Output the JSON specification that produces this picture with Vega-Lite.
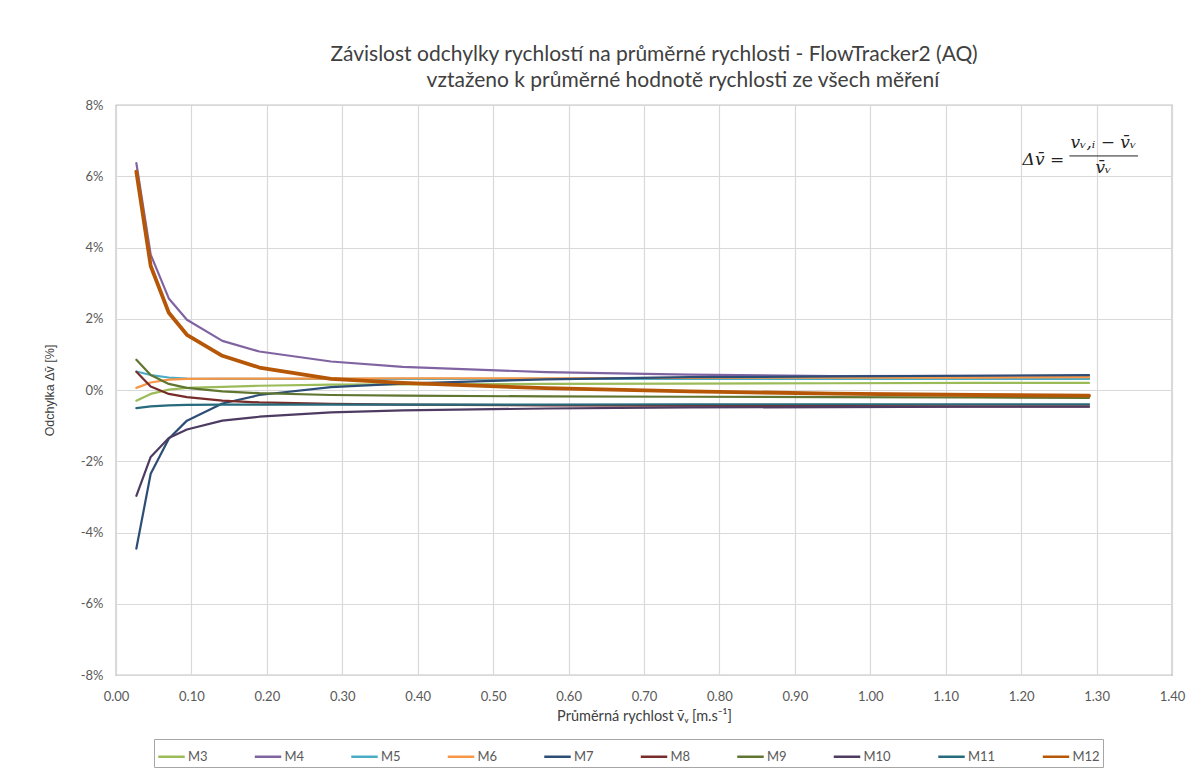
{
  "$schema": "https://vega.github.io/schema/vega-lite/v6.json",
  "width": 1056,
  "height": 570,
  "autosize": {"type": "none"},
  "padding": {"left": 116, "top": 105, "right": 14, "bottom": 101},
  "background": "white",
  "config": {
    "view": {"stroke": "#868686", "strokeWidth": 1.2},
    "font": "Lato",
    "title": {"font": "Lato", "fontSize": 21, "fontWeight": "normal", "color": "#404040", "offset": 8, "lineHeight": 26, "dx": 10},
    "axis": {"labelFont": "Lato", "labelFontSize": 13, "labelColor": "#595959", "gridColor": "#D9D9D9", "gridWidth": 1.2, "ticks": false, "domain": false, "titleFontWeight": "normal", "titleColor": "#404040", "labelFlush": false}
  },
  "title": {"text": ["Závislost odchylky rychlostí na průměrné rychlosti - FlowTracker2 (AQ)", "\u200b\u2003\u2003\u2003\u2002vztaženo k průměrné hodnotě rychlosti ze všech měření"], "anchor": "middle", "frame": "group"},
  "datasets": {
    "lines": [
      {"x":0.027,"s":"M3","y":-0.30},{"x":0.046,"s":"M3","y":-0.11},{"x":0.070,"s":"M3","y":0.01},{"x":0.094,"s":"M3","y":0.06},{"x":0.141,"s":"M3","y":0.09},{"x":0.19,"s":"M3","y":0.12},{"x":0.285,"s":"M3","y":0.15},{"x":0.38,"s":"M3","y":0.16},{"x":0.57,"s":"M3","y":0.17},{"x":0.76,"s":"M3","y":0.18},{"x":0.95,"s":"M3","y":0.19},{"x":1.14,"s":"M3","y":0.20},{"x":1.29,"s":"M3","y":0.20},
      {"x":0.027,"s":"M4","y":6.37},{"x":0.046,"s":"M4","y":3.80},{"x":0.070,"s":"M4","y":2.57},{"x":0.094,"s":"M4","y":1.97},{"x":0.141,"s":"M4","y":1.38},{"x":0.19,"s":"M4","y":1.08},{"x":0.285,"s":"M4","y":0.80},{"x":0.38,"s":"M4","y":0.65},{"x":0.57,"s":"M4","y":0.50},{"x":0.76,"s":"M4","y":0.43},{"x":0.95,"s":"M4","y":0.39},{"x":1.14,"s":"M4","y":0.40},{"x":1.29,"s":"M4","y":0.40},
      {"x":0.027,"s":"M5","y":0.52},{"x":0.046,"s":"M5","y":0.42},{"x":0.070,"s":"M5","y":0.35},{"x":0.094,"s":"M5","y":0.32},{"x":0.141,"s":"M5","y":0.31},{"x":0.19,"s":"M5","y":0.31},{"x":0.285,"s":"M5","y":0.31},{"x":0.38,"s":"M5","y":0.31},{"x":0.57,"s":"M5","y":0.31},{"x":0.76,"s":"M5","y":0.31},{"x":0.95,"s":"M5","y":0.31},{"x":1.14,"s":"M5","y":0.31},{"x":1.29,"s":"M5","y":0.31},
      {"x":0.027,"s":"M6","y":0.06},{"x":0.046,"s":"M6","y":0.21},{"x":0.070,"s":"M6","y":0.29},{"x":0.094,"s":"M6","y":0.31},{"x":0.141,"s":"M6","y":0.32},{"x":0.19,"s":"M6","y":0.32},{"x":0.285,"s":"M6","y":0.32},{"x":0.38,"s":"M6","y":0.33},{"x":0.57,"s":"M6","y":0.33},{"x":0.76,"s":"M6","y":0.34},{"x":0.95,"s":"M6","y":0.35},{"x":1.14,"s":"M6","y":0.35},{"x":1.29,"s":"M6","y":0.36},
      {"x":0.027,"s":"M7","y":-4.45},{"x":0.046,"s":"M7","y":-2.35},{"x":0.070,"s":"M7","y":-1.37},{"x":0.094,"s":"M7","y":-0.86},{"x":0.141,"s":"M7","y":-0.38},{"x":0.19,"s":"M7","y":-0.14},{"x":0.285,"s":"M7","y":0.08},{"x":0.38,"s":"M7","y":0.18},{"x":0.57,"s":"M7","y":0.30},{"x":0.76,"s":"M7","y":0.36},{"x":0.95,"s":"M7","y":0.38},{"x":1.14,"s":"M7","y":0.40},{"x":1.29,"s":"M7","y":0.42},
      {"x":0.027,"s":"M8","y":0.51},{"x":0.046,"s":"M8","y":0.10},{"x":0.070,"s":"M8","y":-0.11},{"x":0.094,"s":"M8","y":-0.20},{"x":0.141,"s":"M8","y":-0.30},{"x":0.19,"s":"M8","y":-0.35},{"x":0.285,"s":"M8","y":-0.39},{"x":0.38,"s":"M8","y":-0.41},{"x":0.57,"s":"M8","y":-0.43},{"x":0.76,"s":"M8","y":-0.44},{"x":0.95,"s":"M8","y":-0.45},{"x":1.14,"s":"M8","y":-0.46},{"x":1.29,"s":"M8","y":-0.46},
      {"x":0.027,"s":"M9","y":0.85},{"x":0.046,"s":"M9","y":0.42},{"x":0.070,"s":"M9","y":0.17},{"x":0.094,"s":"M9","y":0.06},{"x":0.141,"s":"M9","y":-0.04},{"x":0.19,"s":"M9","y":-0.09},{"x":0.285,"s":"M9","y":-0.14},{"x":0.38,"s":"M9","y":-0.16},{"x":0.57,"s":"M9","y":-0.18},{"x":0.76,"s":"M9","y":-0.19},{"x":0.95,"s":"M9","y":-0.20},{"x":1.14,"s":"M9","y":-0.21},{"x":1.29,"s":"M9","y":-0.22},
      {"x":0.027,"s":"M10","y":-2.97},{"x":0.046,"s":"M10","y":-1.88},{"x":0.070,"s":"M10","y":-1.35},{"x":0.094,"s":"M10","y":-1.11},{"x":0.141,"s":"M10","y":-0.86},{"x":0.19,"s":"M10","y":-0.75},{"x":0.285,"s":"M10","y":-0.63},{"x":0.38,"s":"M10","y":-0.57},{"x":0.57,"s":"M10","y":-0.52},{"x":0.76,"s":"M10","y":-0.49},{"x":0.95,"s":"M10","y":-0.48},{"x":1.14,"s":"M10","y":-0.47},{"x":1.29,"s":"M10","y":-0.47},
      {"x":0.027,"s":"M11","y":-0.51},{"x":0.046,"s":"M11","y":-0.46},{"x":0.070,"s":"M11","y":-0.43},{"x":0.094,"s":"M11","y":-0.42},{"x":0.141,"s":"M11","y":-0.41},{"x":0.19,"s":"M11","y":-0.41},{"x":0.285,"s":"M11","y":-0.41},{"x":0.38,"s":"M11","y":-0.41},{"x":0.57,"s":"M11","y":-0.41},{"x":0.76,"s":"M11","y":-0.40},{"x":0.95,"s":"M11","y":-0.40},{"x":1.14,"s":"M11","y":-0.40},{"x":1.29,"s":"M11","y":-0.40},
      {"x":0.027,"s":"M12","y":6.13},{"x":0.046,"s":"M12","y":3.48},{"x":0.070,"s":"M12","y":2.17},{"x":0.094,"s":"M12","y":1.55},{"x":0.141,"s":"M12","y":0.96},{"x":0.19,"s":"M12","y":0.63},{"x":0.285,"s":"M12","y":0.31},{"x":0.38,"s":"M12","y":0.20},{"x":0.57,"s":"M12","y":0.05},{"x":0.76,"s":"M12","y":-0.04},{"x":0.95,"s":"M12","y":-0.10},{"x":1.14,"s":"M12","y":-0.14},{"x":1.29,"s":"M12","y":-0.16}
    ],
    "one": [{}]
  },
  "layer": [
    {
      "data": {"name": "lines"},
      "mark": {"type": "line", "strokeCap": "round", "strokeJoin": "round"},
      "encoding": {
        "x": {"field": "x", "type": "quantitative", "scale": {"domain": [0, 1.4], "nice": false, "zero": false},
          "axis": {"values": [0,0.1,0.2,0.3,0.4,0.5,0.6,0.7,0.8,0.9,1.0,1.1,1.2,1.3,1.4], "format": ".2f", "labelPadding": 15, "title": "Průměrná rychlost v̄ᵥ [m.s⁻¹]", "titleFont": "Lato", "titleFontSize": 14.5, "titlePadding": 6}},
        "y": {"field": "y", "type": "quantitative", "scale": {"domain": [-8, 8], "nice": false},
          "axis": {"values": [-8,-6,-4,-2,0,2,4,6,8], "labelExpr": "datum.value + '%'", "labelPadding": 13, "title": "Odchylka Δv̄ [%]", "titleFont": "Liberation Sans", "titleFontSize": 12.5, "titlePadding": 24}},
        "color": {"field": "s", "type": "nominal",
          "scale": {"domain": ["M3","M4","M5","M6","M7","M8","M9","M10","M11","M12"],
                    "range": ["#9BBB59","#8064A2","#4BACC6","#F79646","#2C4D75","#772C2A","#5F7530","#4D3B62","#276A7C","#B65708"]},
          "legend": {"title": null, "orient": "none", "legendX": 38, "legendY": 634, "direction": "horizontal", "symbolType": "stroke", "symbolSize": 700, "symbolStrokeWidth": 2.5, "labelFont": "Lato", "labelFontSize": 13, "labelColor": "#595959", "labelOffset": 2, "columnPadding": 41.5, "strokeColor": "#A6A6A6", "padding": 3}},
        "strokeWidth": {"condition": {"test": "datum.s === 'M12'", "value": 3.8}, "value": 2.2}
      }
    },
    {
      "data": {"name": "one"},
      "mark": {"type": "text", "font": "DejaVu Serif", "fontStyle": "italic", "fontSize": 17, "align": "right", "baseline": "middle", "color": "#222222"},
      "encoding": {"x": {"datum": 1.257}, "y": {"datum": 6.45}, "text": {"value": "Δv̄ ="}}
    },
    {
      "data": {"name": "one"},
      "mark": {"type": "text", "font": "DejaVu Serif", "fontStyle": "italic", "fontSize": 17, "align": "center", "baseline": "middle", "color": "#222222"},
      "encoding": {"x": {"datum": 1.309}, "y": {"datum": 6.94}, "text": {"value": "vᵥ,ᵢ − v̄ᵥ"}}
    },
    {
      "data": {"name": "one"},
      "mark": {"type": "text", "font": "DejaVu Serif", "fontStyle": "italic", "fontSize": 17, "align": "center", "baseline": "middle", "color": "#222222"},
      "encoding": {"x": {"datum": 1.309}, "y": {"datum": 6.22}, "text": {"value": "v̄ᵥ"}}
    },
    {
      "data": {"name": "one"},
      "mark": {"type": "rule", "color": "#222222", "strokeWidth": 1},
      "encoding": {"x": {"datum": 1.264}, "x2": {"datum": 1.355}, "y": {"datum": 6.57}}
    }
  ]
}
